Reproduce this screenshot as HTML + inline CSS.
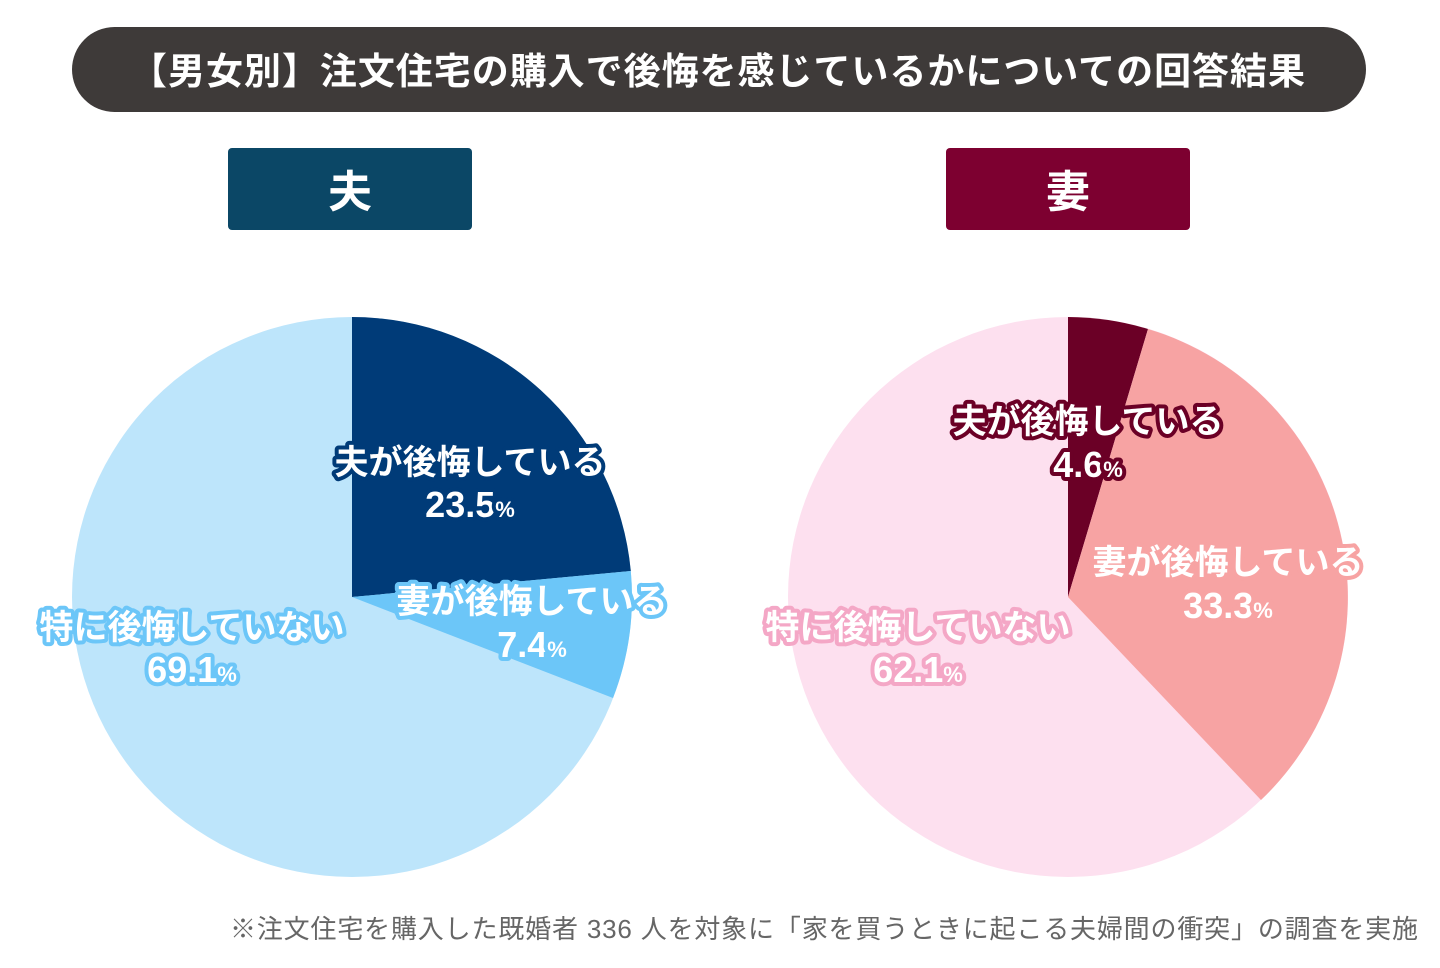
<!DOCTYPE html>
<html><head><meta charset="utf-8"><style>
body{margin:0;background:#fff;width:1440px;height:963px;overflow:hidden;font-family:"Liberation Sans","Noto Sans CJK JP",sans-serif}
svg text{font-family:"Liberation Sans","Noto Sans CJK JP",sans-serif;font-weight:bold;paint-order:stroke;stroke-linejoin:round}
</style></head><body>
<svg width="1440" height="963" viewBox="0 0 1440 963" xmlns="http://www.w3.org/2000/svg">
<rect x="72" y="27" width="1294" height="85" rx="42.5" fill="#3e3a39"/>
<text x="130" y="84" font-size="37" fill="#fff" textLength="1175" lengthAdjust="spacing">【男女別】注文住宅の購入で後悔を感じているかについての回答結果</text>
<rect x="228" y="148" width="244" height="82" rx="4" fill="#0b4766"/>
<text x="350" y="207" font-size="44" fill="#fff" text-anchor="middle">夫</text>
<rect x="946" y="148" width="244" height="82" rx="4" fill="#7d0030"/>
<text x="1068" y="207" font-size="44" fill="#fff" text-anchor="middle">妻</text>
<!-- left pie -->
<circle cx="352" cy="597" r="280" fill="#bde5fb"/>
<path d="M352 597 L352 317 A280 280 0 0 1 630.8 571 Z" fill="#003b78"/>
<path d="M352 597 L630.8 571 A280 280 0 0 1 613 698 Z" fill="#6cc6f8"/>
<g font-size="34" fill="#fff" text-anchor="middle" stroke-width="8">
<text x="470" y="474" stroke="#003b78">夫が後悔している</text>
<text x="470" y="517" stroke="#003b78" font-size="36">23.5<tspan font-size="22">%</tspan></text>
<text x="532" y="613" stroke="#6cc6f8">妻が後悔している</text>
<text x="532" y="657" stroke="#6cc6f8" font-size="36">7.4<tspan font-size="22">%</tspan></text>
<text x="192" y="639" stroke="#6cc6f8">特に後悔していない</text>
<text x="192" y="682" stroke="#6cc6f8" font-size="36">69.1<tspan font-size="22">%</tspan></text>
</g>
<!-- right pie -->
<circle cx="1068" cy="597" r="280" fill="#fde0ef"/>
<path d="M1068 597 L1068 317 A280 280 0 0 1 1148 329 Z" fill="#6b0026"/>
<path d="M1068 597 L1148 329 A280 280 0 0 1 1261 800 Z" fill="#f7a3a3"/>
<g font-size="34" fill="#fff" text-anchor="middle" stroke-width="8">
<text x="1088" y="433" stroke="#6b0026">夫が後悔している</text>
<text x="1088" y="477" stroke="#6b0026" font-size="36">4.6<tspan font-size="22">%</tspan></text>
<text x="1228" y="574" stroke="#f7a3a3">妻が後悔している</text>
<text x="1228" y="618" stroke="#f7a3a3" font-size="36">33.3<tspan font-size="22">%</tspan></text>
<text x="918" y="639" stroke="#f4a7c6">特に後悔していない</text>
<text x="918" y="682" stroke="#f4a7c6" font-size="36">62.1<tspan font-size="22">%</tspan></text>
</g>
<text x="230" y="938" font-size="26" fill="#666" style="font-weight:normal" textLength="1188" lengthAdjust="spacing">※注文住宅を購入した既婚者 336 人を対象に「家を買うときに起こる夫婦間の衝突」の調査を実施</text>
</svg>
</body></html>
